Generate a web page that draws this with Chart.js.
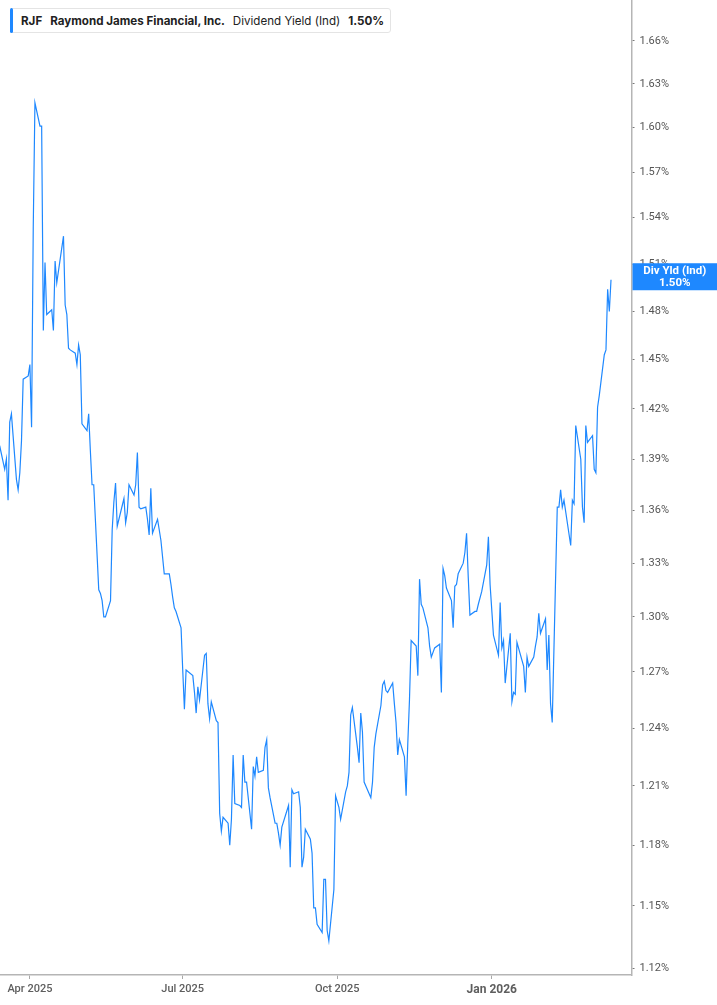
<!DOCTYPE html>
<html>
<head>
<meta charset="utf-8">
<script src="https://cdn.jsdelivr.net/npm/chart.js@4/dist/chart.umd.min.js"></script>
<style>
  html, body { margin:0; padding:0; background:#fff; }
  #wrap { position:relative; width:717px; height:1005px; }
  #legend {
    position:absolute; left:10px; top:8px; height:25px; box-sizing:border-box;
    border:1px solid #e4e4e4; border-radius:3px; background:#fff;
    font-family:Inter, "Noto Sans", sans-serif; font-size:11.6px; color:#222;
    display:flex; align-items:center; padding:0 6px 0 10px; white-space:nowrap;
  }
  #legend .bar { position:absolute; left:-1px; top:-1px; bottom:-1px; width:3px; background:#1e88ff; border-radius:2px; }
  #legend span { margin-right:8px; }
  #legend span:last-child { margin-right:0; }
  #legend b { font-weight:700; }
</style>
</head>
<body>
<div id="wrap">
  <canvas id="c" width="717" height="1005"></canvas>
  <div id="legend"><div class="bar"></div><span><b>RJF</b></span><span><b>Raymond James Financial, Inc.</b></span><span>Dividend Yield (Ind)</span><span><b>1.50%</b></span></div>
</div>
<script>
// ---- DATA ----
const startDate = '2025-03-14';
const marketHolidays = ['2025-04-18','2025-05-26','2025-06-19','2025-07-04','2025-09-01',
  '2025-11-27','2025-12-25','2026-01-01','2026-01-19','2026-02-16'];

const divYield = [
  1.398,1.384,1.390,1.366,1.412,1.417,1.378,1.372,1.382,1.401,
  1.438,1.440,1.447,1.409,1.534,1.617,1.601,1.601,1.468,1.511,
  1.478,1.481,1.468,1.512,1.498,1.528,1.484,1.478,1.457,1.456,
  1.454,1.447,1.459,1.453,1.411,1.407,1.417,1.395,1.375,1.375,
  1.315,1.313,1.309,1.300,1.300,1.309,1.349,1.365,1.376,1.351,
  1.367,1.353,1.359,1.375,1.369,1.375,1.394,1.362,1.361,1.362,
  1.355,1.346,1.373,1.347,1.355,1.349,1.343,1.324,1.324,1.318,
  1.311,1.305,1.303,1.294,1.271,1.250,1.271,1.268,1.259,1.248,
  1.262,1.255,1.279,1.280,
  1.253,1.245,1.254,1.244,1.243,1.196,1.187,1.194,1.191,1.180,
  1.193,1.226,1.201,1.200,1.199,1.226,1.212,1.212,1.188,1.220,
  1.215,1.225,1.217,1.218,1.230,1.234,1.209,1.204,1.191,1.191,
  1.186,1.180,1.189,1.200,1.169,1.208,1.206,1.207,1.199,
  1.169,1.174,1.188,1.183,1.176,1.149,1.149,1.141,1.137,1.163,
  1.163,1.138,1.133,1.158,1.205,1.202,1.199,1.193,1.207,1.210,
  1.217,1.247,1.251,1.230,1.222,1.248,1.238,1.212,1.206,1.204,
  1.212,1.230,1.237,1.252,1.263,1.265,1.260,1.259,1.264,1.253,
  1.243,1.226,1.234,1.225,1.205,1.232,1.255,1.287,
  1.284,1.268,1.321,1.307,1.305,1.294,1.284,1.278,1.283,1.285,
  1.259,1.327,1.323,1.316,1.309,1.294,1.317,1.318,1.324,1.330,
  1.336,1.347,1.322,1.301,1.303,1.303,1.307,1.314,1.329,1.345,
  1.318,1.290,1.279,1.308,1.283,1.287,1.264,1.291,1.254,1.259,
  1.258,1.286,1.273,1.259,1.278,1.273,
  1.278,1.284,1.289,1.302,1.291,1.299,1.271,1.290,1.253,1.243,
  1.362,1.362,1.372,1.362,1.366,1.340,1.366,1.364,1.410,1.390,
  1.362,1.353,1.410,1.400,1.404,1.384,1.382,1.421,1.428,1.453,
  1.456,1.494,1.480,1.500
];

const xTickDates = ['2025-04-01','2025-07-01','2025-10-01','2026-01-01'];
const xTickLabels = ['Apr 2025','Jul 2025','Oct 2025','Jan 2026'];
const yTicks = [1.12,1.15,1.18,1.21,1.24,1.27,1.30,1.33,1.36,1.39,1.42,1.45,1.48,1.51,1.54,1.57,1.60,1.63,1.66];
const viewStart = '2025-03-15';
const viewEnd = '2026-03-27';
const yMin = 1.1167, yMax = 1.6891;
const seriesLabel = 'Div Yld (Ind)';

// ---- build ----
const DAY = 86400000;
const origin = Date.parse('2025-04-01T00:00:00Z');
const toDay = s => (Date.parse(s + 'T00:00:00Z') - origin) / DAY;
const tradingDays = [];
{
  let t = Date.parse(startDate + 'T00:00:00Z');
  while (tradingDays.length < divYield.length) {
    const d = new Date(t);
    const iso = d.toISOString().slice(0,10);
    const wd = d.getUTCDay();
    if (wd !== 0 && wd !== 6 && !marketHolidays.includes(iso)) tradingDays.push(iso);
    t += DAY;
  }
}
const points = divYield.map((v,i) => ({x: toDay(tradingDays[i]), y: v}));
const xTickVals = xTickDates.map(toDay);

const badgePlugin = {
  id: 'badge',
  afterDraw(chart) {
    const {ctx, chartArea, scales} = chart;
    const last = divYield[divYield.length-1];
    const y = scales.y.getPixelForValue(last) - 3;
    const x0 = chartArea.right + 1, x1 = chart.width;
    ctx.save();
    ctx.fillStyle = '#1e88ff';
    ctx.fillRect(x0, y - 13.5, x1 - x0, 27);
    ctx.fillStyle = '#fff';
    ctx.font = 'bold 11.5px Roboto, "Noto Sans", sans-serif';
    ctx.textAlign = 'center';
    ctx.textBaseline = 'middle';
    const cx = (x0 + x1) / 2;
    ctx.fillText(seriesLabel, cx, y - 6);
    ctx.fillText(last.toFixed(2) + '%', cx, y + 6);
    ctx.restore();
  }
};

new Chart(document.getElementById('c'), {
  type: 'line',
  data: { datasets: [{
    data: points,
    borderColor: '#1e88ff',
    borderWidth: 1.2,
    pointRadius: 0,
    tension: 0,
    fill: false
  }]},
  options: {
    responsive: false,
    animation: false,
    layout: { padding: 0 },
    plugins: { legend: {display:false}, tooltip: {enabled:false} },
    scales: {
      x: {
        type: 'linear',
        min: toDay(viewStart) - 0.8,
        max: toDay(viewEnd) - 1.8,
        afterBuildTicks: s => { s.ticks = xTickVals.map(v => ({value:v})); },
        afterFit: s => { s.height = 30; s.paddingLeft = 0; s.paddingRight = 0; },
        grid: { display:true, drawOnChartArea:false, drawTicks:true, tickLength:4, color:'#a8a8a8', lineWidth:1 },
        border: { display:true, color:'#b5b5b5', width:1.5 },
        ticks: {
          autoSkip:false, maxRotation:0, padding:4, color:'#5e5e5e',
          callback: v => { const i = xTickVals.indexOf(v); return i >= 0 ? xTickLabels[i] : ''; },
          font: c => (c.tick && c.tick.value === xTickVals[3])
            ? {family:'Roboto, "Noto Sans", sans-serif', size:12, weight:'bold'}
            : {family:'Roboto, "Noto Sans", sans-serif', size:11, weight:'500'}
        }
      },
      y: {
        type: 'logarithmic',
        position: 'right',
        min: yMin, max: yMax,
        afterBuildTicks: s => { s.ticks = yTicks.map(v => ({value:v})); },
        afterFit: s => { s.width = 85.5; s.paddingTop = 0; s.paddingBottom = 0; },
        grid: { display:true, drawOnChartArea:false, drawTicks:true, tickLength:3, color:'#777', lineWidth:1 },
        border: { display:true, color:'#b5b5b5', width:1.5 },
        ticks: {
          autoSkip:false, padding:5, color:'#555',
          font: {family:'Roboto, "Noto Sans", sans-serif', size:11},
          callback: v => Number(v).toFixed(2) + '%'
        }
      }
    }
  },
  plugins: [badgePlugin]
});
</script>
</body>
</html>
